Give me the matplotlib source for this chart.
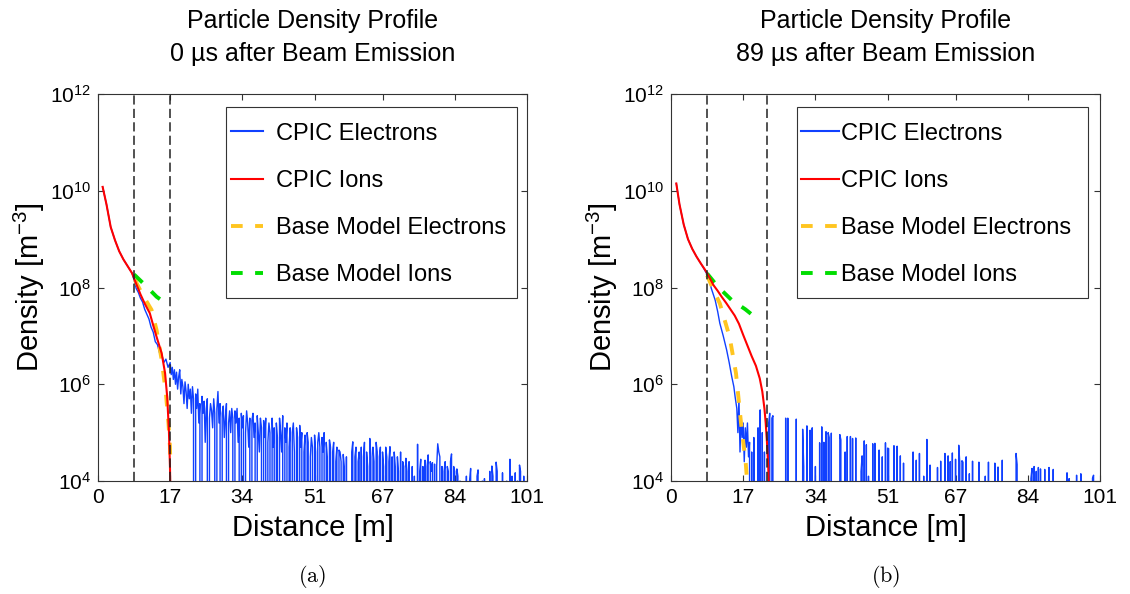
import numpy as np
import matplotlib.pyplot as plt
from matplotlib.patches import Rectangle
from matplotlib.lines import Line2D
from matplotlib.ticker import NullLocator

plt.rcParams['font.family'] = ['Liberation Sans', 'DejaVu Sans']
plt.rcParams['mathtext.fontset'] = 'custom'
plt.rcParams['mathtext.rm'] = 'Liberation Sans'
plt.rcParams['mathtext.it'] = 'Liberation Sans:italic'
plt.rcParams['mathtext.bf'] = 'Liberation Sans:bold'

# ---- values (log10 of density in m^-3) ----
titles = ["Particle Density Profile\n0 \u00b5s after Beam Emission",
          "Particle Density Profile\n89 \u00b5s after Beam Emission"]
captions = ["(a)", "(b)"]
x_ticks = [0, 17, 34, 51, 67, 84, 101]
y_ticks = [4, 6, 8, 10, 12]
legend_labels = ["CPIC Electrons", "CPIC Ions", "Base Model Electrons", "Base Model Ions"]
sheath_a = [8.5, 17.0]
sheath_b = [8.5, 22.6]

# (a) 0 us
ion_a_x = [1.1, 2, 3, 4, 5, 6, 7, 8, 9, 10, 11, 12.2, 13, 13.8, 15, 15.8, 16.3, 16.7, 16.95, 17.05]
ion_a_e = [10.08, 9.72, 9.25, 8.98, 8.75, 8.58, 8.44, 8.3, 8.08, 7.86, 7.67, 7.47, 7.22, 6.98,
           6.64, 6.23, 5.74, 5.05, 4.3, 3.8]
ele_a_x = [1.1, 2, 3, 4, 5, 6, 7, 8, 8.5, 9, 9.5, 10, 10.5, 11, 11.5, 12, 12.5, 13, 13.5, 14,
           14.5, 15, 15.5, 16, 16.5]
ele_a_e = [10.08, 9.72, 9.25, 8.98, 8.75, 8.58, 8.44, 8.3, 8.16, 7.98, 7.9, 7.78, 7.7, 7.55,
           7.45, 7.35, 7.18, 7.08, 6.88, 6.82, 6.65, 6.62, 6.45, 6.52, 6.35]
# noisy electron tail, one value per 0.25 m bin from 17 m (0 = empty bin)
tail_a_start = 17.0
tail_a_e = [
    6.45, 6.2, 6.35, 6.1, 6.3, 6.0, 6.25, 5.9, 6.15, 6.3, 5.8, 6.1, 5.95, 5.6, 6.05, 5.85, 5.5, 6.0, 5.7, 5.9,
    5.4, 5.95, 5.7, 0, 5.8, 5.5, 5.9, 5.2, 5.6, 0, 5.75, 5.4, 5.65, 4.8, 5.5, 5.7, 0, 5.3, 5.6, 5.45,
    5.1, 5.7, 5.4, 0, 5.5, 5.85, 5.2, 5.6, 0, 5.4, 5.55, 4.9, 5.3, 5.6, 0, 5.2, 5.45, 5.0, 5.5, 5.3,
    0, 5.45, 5.2, 5.5, 4.8, 5.3, 0, 5.4, 5.1, 5.35, 0, 5.0, 5.45, 5.2, 4.7, 5.3, 0, 5.25, 5.4, 4.9,
    5.2, 0, 5.35, 5.0, 4.6, 5.3, 5.1, 0, 5.25, 4.9, 5.3, 0, 4.8, 5.2, 5.0, 0, 5.3, 4.7, 5.1, 0,
    5.2, 4.9, 0, 5.3, 5.0, 4.6, 5.35, 0, 5.1, 4.8, 5.2, 0, 4.7, 5.1, 0, 5.0, 5.2, 4.6, 0, 5.1,
    4.9, 0, 5.15, 4.7, 5.0, 0, 4.6, 4.95, 0, 5.0, 4.8, 0, 4.5, 4.9, 4.7, 0, 4.95, 4.6, 0, 4.8,
    5.0, 4.7, 0, 4.9, 4.6, 5.0, 0, 4.8, 4.5, 0, 4.85, 4.7, 0, 4.6, 4.8, 0, 4.4, 4.7, 0, 4.64,
    4.6, 4.4, 0, 4.55, 4.3, 0, 4.5, 0, 0, 0, 0, 4.6, 4.81, 0, 4.5, 4.7, 0, 4.4, 4.6, 0,
    4.7, 0, 4.5, 4.8, 0, 4.6, 4.3, 0, 4.88, 4.5, 0, 4.7, 4.4, 0, 4.8, 4.6, 0, 4.5, 4.7, 0,
    4.6, 4.3, 0, 4.7, 4.5, 0, 4.4, 4.71, 0, 4.5, 0, 4.6, 4.3, 0, 4.5, 4.2, 0, 4.6, 0, 4.4,
    4.3, 0, 4.47, 4.2, 0, 4.4, 0, 0, 4.3, 0, 4.1, 0, 0, 4.76, 0, 4.2, 4.45, 0, 4.3, 0,
    4.43, 0, 4.3, 4.54, 0, 4.4, 4.2, 4.38, 0, 4.35, 0, 4.3, 4.77, 4.6, 4.5, 0, 4.3, 0, 4.2, 4.4,
    0, 4.3, 4.2, 0, 4.4, 4.56, 0, 4.3, 4.2, 0, 4.25, 4.1, 0, 4.0, 0, 0, 0, 0, 0, 4.1,
    0, 0, 4.0, 4.26, 0, 0, 0, 0, 0, 4.1, 4.23, 0, 0, 0, 4.0, 0, 4.05, 0, 0, 0,
    0, 4.2, 0, 4.31, 4.1, 0, 0, 4.39, 4.2, 0, 0, 0, 0, 4.17, 0, 0, 0, 4.0, 0, 0,
    4.45, 0, 4.1, 0, 0, 4.17, 0, 4.0, 0, 4.33, 4.2, 0, 0, 4.1, 0, 0]
bme_a_x = [8.7, 9.1, 10.5, 12.6, 13.8, 15.0, 16.0, 16.6, 16.95, 17.05]
bme_a_e = [8.16, 8.09, 7.85, 7.54, 7.12, 6.5, 5.81, 5.19, 4.71, 4.3]
bmi_a_x = [8.5, 11.1, 13.8, 15.4]
bmi_a_e = [8.27, 8.05, 7.81, 7.71]

# (b) 89 us
ion_b_x = [1.25, 2, 3, 4, 5, 6, 7, 8, 9, 10, 11, 12, 13, 14, 15, 16, 17, 18, 19, 20, 20.9,
           21.5, 22.0, 22.3, 22.6, 22.9, 23.05]
ion_b_e = [10.15, 9.72, 9.3, 9.0, 8.8, 8.64, 8.5, 8.37, 8.22, 8.05, 7.93, 7.8, 7.68, 7.55,
           7.42, 7.25, 7.02, 6.8, 6.58, 6.38, 6.12, 5.85, 5.5, 5.2, 4.8, 4.3, 3.8]
ele_b_x = [1.25, 2, 3, 4, 5, 6, 7, 8, 8.8, 9.5, 10.4, 11, 11.5, 12.3, 13.1, 13.7, 14.3, 14.8, 15.1]
ele_b_e = [10.15, 9.72, 9.3, 9.0, 8.8, 8.64, 8.5, 8.35, 8.22, 7.98, 7.74, 7.5, 7.26, 7.0, 6.71,
           6.45, 6.16, 5.95, 5.74]
# sparse electron spikes beyond the sheath
spike_b_x = [15.5, 15.75, 16.0, 16.25, 16.5, 16.75, 17.0, 17.25, 17.5, 17.75, 18.0, 18.25, 18.5,
             19.0, 19.5, 20.5, 20.9, 21.5, 22.0, 23.0, 23.25, 23.75, 24.0, 27.0, 27.5, 29.4,
             30.9, 31.3, 32.1, 32.7, 33.2, 34.0, 35.1, 35.5, 36.0, 36.4, 36.9, 37.2, 37.7, 39.7,
             40.0, 40.9, 41.5, 42.3, 42.7, 43.6, 44.8, 45.0, 45.6, 46.0, 46.6, 47.6, 47.9, 49.0,
             49.8, 50.6, 51.0, 51.3, 52.4, 53.2, 54.0, 54.7, 57.0, 57.7, 58.5, 59.5, 60.2, 61.0,
             62.8, 63.6, 64.4, 65.2, 65.8, 66.2, 66.9, 67.7, 68.0, 68.4, 68.8, 69.4, 70.2, 71.0,
             72.6, 74.0, 74.7, 76.3, 76.9, 78.1, 81.3, 81.6, 84.7, 85.1, 85.5, 86.0, 86.5, 86.9,
             88.0, 88.9, 89.9, 93.3, 93.7, 95.6, 96.5, 99.3, 99.6]
spike_b_e = [5.5, 5.0, 5.7, 4.6, 5.3, 4.9, 5.2, 4.4, 5.1, 4.7, 5.2, 4.5, 4.8,
             4.6, 4.9, 5.1, 5.47, 5.0, 4.6, 5.2, 5.4, 5.3, 5.35, 5.3, 5.3, 5.28,
             5.07, 4.3, 5.14, 5.05, 5.1, 4.3, 4.79, 5.12, 4.8, 5.02, 5.0, 4.9, 4.99, 4.96,
             4.85, 4.6, 4.92, 4.92, 4.88, 4.89, 4.2, 4.52, 4.83, 4.75, 4.1, 4.77, 4.78, 4.64,
             4.5, 4.79, 4.68, 4.67, 4.73, 4.72, 4.52, 4.37, 4.6, 4.43, 4.57, 4.1, 4.86, 4.33,
             4.28, 4.41, 4.57, 4.52, 4.4, 4.58, 4.45, 4.74, 4.37, 4.42, 4.39, 4.5, 4.15, 4.41,
             4.39, 4.1, 4.39, 4.37, 4.29, 4.43, 4.57, 4.34, 4.05, 4.26, 4.3, 4.2, 4.28, 4.25,
             4.24, 4.28, 4.24, 4.17, 4.05, 4.12, 4.15, 4.06, 4.12]
bme_b_x = [8.5, 10.0, 11.5, 13.8, 15.3, 16.5, 17.6, 18.0]
bme_b_e = [8.25, 7.95, 7.67, 6.98, 6.23, 5.19, 4.37, 3.9]
bmi_b_x = [8.5, 11.0, 14.3, 17.5, 20.2]
bmi_b_e = [8.29, 8.02, 7.74, 7.55, 7.36]

c_ele, c_ion, c_bme, c_bmi = '#1040ff', '#ff0000', '#ffc520', '#00dd00'
dash = (0, (3.0, 3.2))


def tail_a():
    e = np.array(tail_a_e)
    x = tail_a_start + 0.25 * np.arange(len(e))
    d = np.where(e > 0, 10.0 ** e, 0.0)
    return x, d


def tail_b():
    x = np.arange(15.5, 101.0, 0.25)
    d = np.zeros_like(x)
    idx = np.rint((np.array(spike_b_x) - 15.5) / 0.25).astype(int)
    d[idx] = 10.0 ** np.array(spike_b_e)
    return x, d


fig = plt.figure(figsize=(11.3, 5.94), dpi=100)
ax_a = fig.add_axes([0.0867, 0.1902, 0.3796, 0.6515])
ax_b = fig.add_axes([0.5938, 0.1902, 0.3796, 0.6515])

# legend anchor, frame left edge, handle length, text pad
panels = [
    (ax_a, ion_a_x, ion_a_e, ele_a_x, ele_a_e, tail_a(), bme_a_x, bme_a_e, bmi_a_x, bmi_a_e,
     sheath_a, 0.275, 0.298, 1.36, 0.55),
    (ax_b, ion_b_x, ion_b_e, ele_b_x, ele_b_e, tail_b(), bme_b_x, bme_b_e, bmi_b_x, bmi_b_e,
     sheath_b, 0.268, 0.294, 1.6, 0.1),
]

for i, (ax, ix, ie, ex, ee, tail, mx, me, gx, ge, sheath, lx, rx, hl, htp) in enumerate(panels):
    tx, td = tail
    ex_all = np.concatenate([ex, tx])
    ed_all = np.concatenate([10.0 ** np.array(ee), td])
    ax.plot(ex_all, ed_all, color=c_ele, lw=1.0, zorder=2)
    ax.plot(mx, 10.0 ** np.array(me), color=c_bme, lw=2.8, ls=dash, zorder=3)
    ax.plot(gx, 10.0 ** np.array(ge), color=c_bmi, lw=2.8, ls=dash, zorder=3)
    ax.plot(ix, 10.0 ** np.array(ie), color=c_ion, lw=1.5, zorder=4)
    for s in sheath:
        ax.axvline(s, color='#222222', lw=1.1, ls=(0, (6.0, 2.8)), zorder=5)

    ax.set_yscale('log')
    ax.set_xlim(0, 101)
    ax.set_ylim(1e4, 1e12)
    ax.set_xticks(x_ticks)
    ax.set_xticklabels([str(t) for t in x_ticks])
    ax.set_yticks([10.0 ** t for t in y_ticks])
    ax.set_yticklabels([r'$\mathregular{10^{%d}}$' % t for t in y_ticks])
    ax.yaxis.set_minor_locator(NullLocator())
    ax.tick_params(direction='in', top=True, right=True, length=4, width=0.8,
                   labelsize=15, pad=5, color='#333333')
    for sp in ax.spines.values():
        sp.set_color('#333333')
        sp.set_linewidth(0.8)

    ax.set_xlabel("Distance [m]", fontsize=21, labelpad=5)
    ax.set_ylabel(r"Density [m$^{-3}$]", fontsize=21, labelpad=2)
    ax.set_title(titles[i], fontsize=18, pad=24, linespacing=1.45)

    # legend
    ax.add_patch(Rectangle((rx, 0.473), 0.679, 0.493, transform=ax.transAxes,
                           facecolor='white', edgecolor='#333333', lw=0.8, zorder=6))
    handles = [Line2D([], [], color=c_ele, lw=1.5),
               Line2D([], [], color=c_ion, lw=1.5),
               Line2D([], [], color=c_bme, lw=2.8, ls=dash),
               Line2D([], [], color=c_bmi, lw=2.8, ls=dash)]
    leg = ax.legend(handles, legend_labels, loc='upper left', bbox_to_anchor=(lx, 0.966),
                    fontsize=17, frameon=False, handlelength=hl, handletextpad=htp,
                    labelspacing=1.07, borderpad=0.65, borderaxespad=0)
    leg.set_zorder(7)

    fig.text(0.2765 + 0.5071 * i, 0.03, r'$\mathrm{%s}$' % captions[i], fontsize=16,
             ha='center', va='center', math_fontfamily='cm')

fig.savefig("out.png", dpi=100)
